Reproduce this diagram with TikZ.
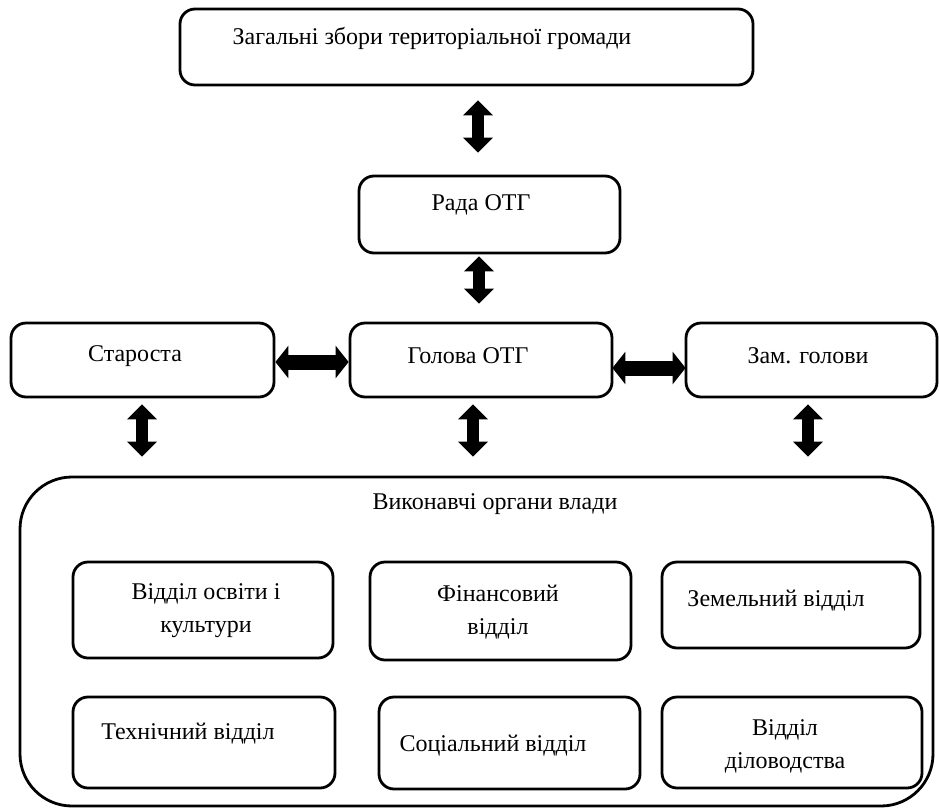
\documentclass[tikz,border=0pt]{standalone}
\usepackage{fontspec}
\setmainfont{Liberation Serif}
\newfontfamily\tnr{Liberation Serif}
\usetikzlibrary{arrows.meta,calc}
\begin{document}
\begin{tikzpicture}[x=1pt,y=-1pt,
  box/.style={draw, line width=2.8pt, rounded corners=15pt, rectangle, inner sep=0pt},
  bigbox/.style={draw, line width=2.8pt, rounded corners=52pt, rectangle, inner sep=0pt},
  txt/.style={font=\tnr\fontsize{24}{33}\selectfont, align=center, inner sep=0pt},
  varr/.style={line width=12pt, {Triangle[width=29pt,length=15pt]}-{Triangle[width=29pt,length=15pt]}},
  harr/.style={line width=15pt, {Triangle[width=32pt,length=13pt]}-{Triangle[width=32pt,length=13pt]}}]
\useasboundingbox (0,0) rectangle (939,809);
% boxes
\node[box, minimum width=573pt, minimum height=76pt] (top) at (466.5,47) {};
\node[box, minimum width=261pt, minimum height=77pt] (rada) at (489.5,214.5) {};
\node[box, minimum width=263pt, minimum height=74pt] (star) at (142.5,360) {};
\node[box, minimum width=262pt, minimum height=74pt] (hol) at (481,360) {};
\node[box, minimum width=251pt, minimum height=74pt] (zam) at (811.5,360) {};
\node[bigbox, minimum width=913pt, minimum height=329pt] (exec) at (476.5,641.5) {};
\node[box, minimum width=260pt, minimum height=96pt] (b11) at (203,610) {};
\node[box, minimum width=261pt, minimum height=98pt] (b12) at (500.5,611) {};
\node[box, minimum width=258pt, minimum height=86pt] (b13) at (791,605) {};
\node[box, minimum width=262pt, minimum height=91pt] (b21) at (204,742.5) {};
\node[box, minimum width=261pt, minimum height=92pt] (b22) at (509.5,743) {};
\node[box, minimum width=260pt, minimum height=91pt] (b23) at (792,742.5) {};
% texts
\node[txt] (t0) at (432,38) {Загальні збори територіальної громади};
\node[txt] (t1) at (481,205) {Рада ОТГ};
\node[txt] (t2) at (135,356) {Староста};
\node[txt] (t3) at (468,356) {Голова ОТГ};
\node[txt] (t4) at (808,356) {Зам. голови};
\node[txt] (t5) at (495,504) {Виконавчі органи влади};
\node[txt] (t6) at (206,611) {Відділ освіти і\\культури};
\node[txt] (t7) at (498,612) {Фінансовий\\відділ};
\node[txt] (t8) at (776,601) {Земельний відділ};
\node[txt] (t9) at (188,734) {Технічний відділ};
\node[txt] (t10) at (493,746) {Соціальний відділ};
\node[txt] (t11) at (785,746) {Відділ\\діловодства};
% arrows
\draw[varr] ($(top.south)+(11.5,14)$) -- ($(rada.north)+(-11.5,-22)$);
\draw[varr] ($(rada.south)+(-10.5,2)$) -- ($(hol.north)+(-2,-18)$);
\draw[harr] ($(star.east)+(0,2)$) -- ($(hol.west)+(0,2)$);
\draw[harr] ($(hol.east)+(-1,8)$) -- ($(zam.west)+(1,8)$);
\draw[varr] ($(star.south)+(-0.5,6)$) -- ($(star.south |- exec.north)+(-0.5,-19)$);
\draw[varr] ($(hol.south)+(-8,6)$) -- ($(hol.south |- exec.north)+(-8,-19)$);
\draw[varr] ($(zam.south)+(-3.5,6)$) -- ($(zam.south |- exec.north)+(-3.5,-19)$);
\end{tikzpicture}
\end{document}
